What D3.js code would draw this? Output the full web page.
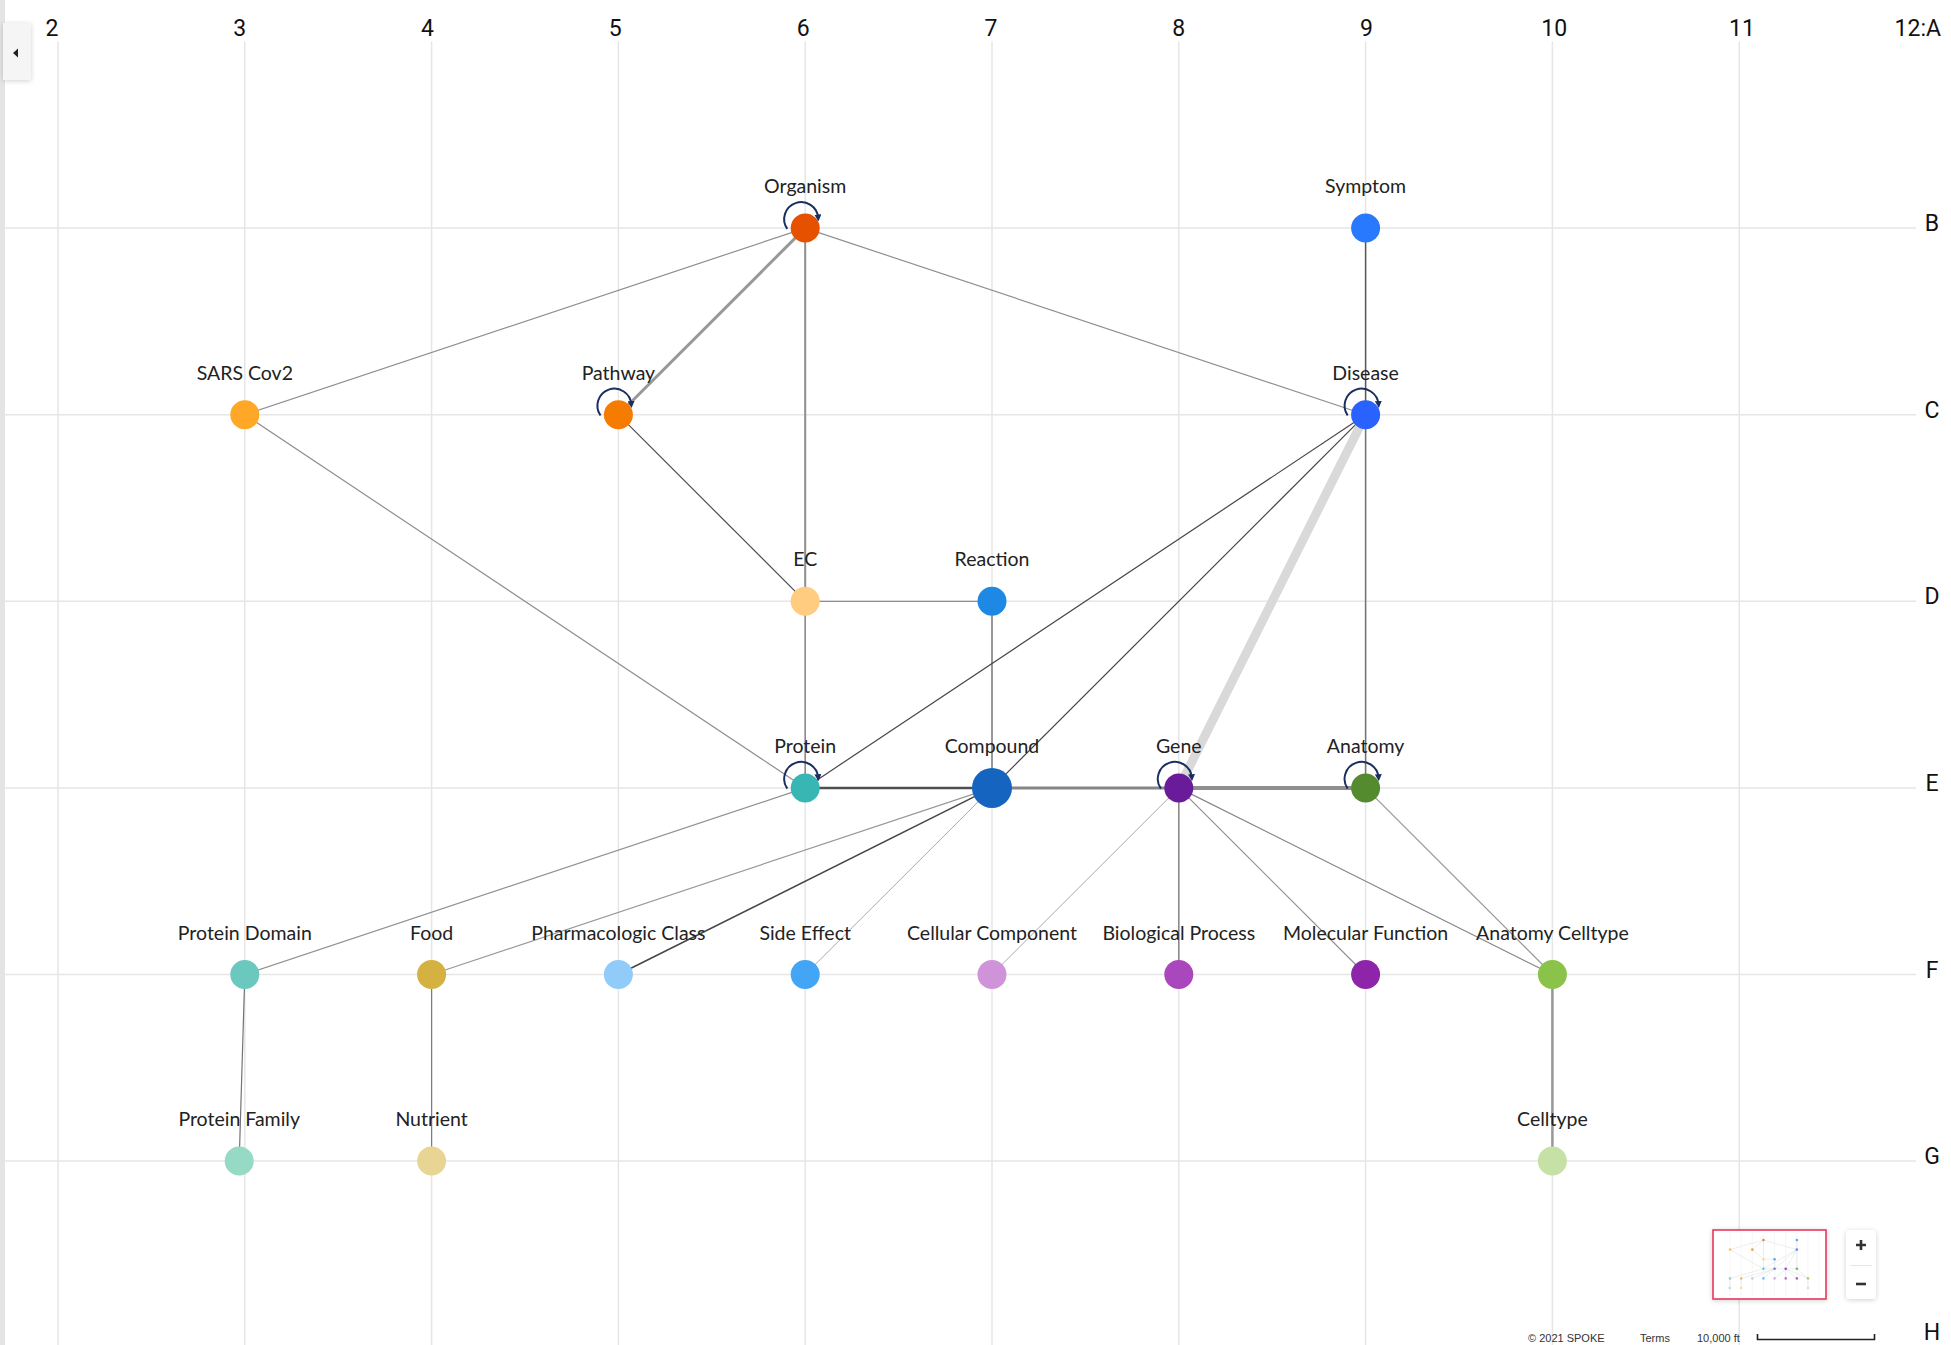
<!DOCTYPE html>
<html>
<head>
<meta charset="utf-8">
<script src="https://cdn.jsdelivr.net/npm/d3@7"></script>
<style>
  html, body { margin: 0; padding: 0; background: #fff; overflow: hidden; }
  svg { display: block; }
</style>
</head>
<body>
<svg id="map" width="1951" height="1345"></svg>
<script>
const WIDTH = 1951;
const HEIGHT = 1345;

// grid labels
const COLUMNS = [2, 3, 4, 5, 6, 7, 8, 9, 10, 11];
const ROWS = ["A", "B", "C", "D", "E", "F", "G", "H"];

// node table: name, grid column, grid row
const nodeNames = [
  "Organism", "Symptom", "SARS Cov2", "Pathway", "Disease", "EC", "Reaction",
  "Protein", "Compound", "Gene", "Anatomy", "Protein Domain", "Food",
  "Pharmacologic Class", "Side Effect", "Cellular Component", "Biological Process",
  "Molecular Function", "Anatomy Celltype", "Protein Family", "Nutrient", "Celltype",
];
const nodeCols = [6, 9, 3, 5, 9, 6, 7, 6, 7, 8, 9, 3, 4, 5, 6, 7, 8, 9, 10, 2.97, 4, 10];
const nodeRows = ["B", "B", "C", "C", "C", "D", "D", "E", "E", "E", "E",
  "F", "F", "F", "F", "F", "F", "F", "F", "G", "G", "G"];
const nodeColors = [
  "#e65100", "#2979ff", "#ffa726", "#f57c00", "#2962ff", "#ffcc80", "#1e88e5",
  "#38b6b4", "#1565c0", "#6a1b9a", "#558b2f", "#6ac8bf", "#d4b140",
  "#90cbf9", "#42a5f5", "#ce93d8", "#ab47bc", "#8e24aa", "#8bc34a",
  "#96d9c5", "#e8d594", "#c5e1a5",
];
const selfLoops = ["Organism", "Pathway", "Disease", "Protein", "Gene", "Anatomy"];

// edges: source, target, weight (thickness), shade (0 light .. 1 dark)
const edgeSources = [
  "Organism", "Organism", "Organism", "Organism", "Symptom", "SARS Cov2", "Pathway",
  "EC", "EC", "Reaction", "Disease", "Disease", "Disease", "Disease", "Protein",
  "Compound", "Gene", "Protein", "Compound", "Compound", "Compound", "Gene", "Gene",
  "Gene", "Gene", "Anatomy", "Protein Domain", "Food", "Anatomy Celltype",
];
const edgeTargets = [
  "SARS Cov2", "Pathway", "EC", "Disease", "Disease", "Protein", "EC",
  "Reaction", "Protein", "Compound", "Protein", "Compound", "Gene", "Anatomy", "Compound",
  "Gene", "Anatomy", "Protein Domain", "Food", "Pharmacologic Class", "Side Effect",
  "Cellular Component", "Biological Process", "Molecular Function", "Anatomy Celltype",
  "Anatomy Celltype", "Protein Family", "Nutrient", "Celltype",
];
const edgeWeights = [1.2, 3, 2, 1.2, 1.5, 1.2, 1.2, 1.2, 1.5, 1.5, 1.2, 1.2, 9, 1.5, 2.5,
  3, 4, 1.2, 1.2, 1.6, 1, 1, 1.5, 1.2, 1.2, 1.2, 1.2, 1.2, 2.5];
const edgeShades = [0.45, 0.4, 0.45, 0.45, 0.75, 0.45, 0.8, 0.45, 0.5, 0.55, 0.85, 0.85, 0.05,
  0.6, 0.8, 0.5, 0.45, 0.45, 0.4, 0.85, 0.3, 0.3, 0.5, 0.45, 0.5, 0.4, 0.6, 0.55, 0.4];

const svg = d3.select("#map");

const x = d3.scaleLinear().domain([2, 12]).range([58, 1926]);
const rowY = d3.scaleLinear().domain([0, 7]).range([41.5, 1347.7]);
const y = (r) => rowY(ROWS.indexOf(r));
const colLabelX = d3.scaleLinear().domain([2, 11]).range([52, 1742]);
const color = d3.scaleOrdinal(nodeNames, nodeColors);
const width = d3.scaleLinear().domain([1, 9]).range([1, 9]);
const shade = d3.scaleLinear().domain([0, 1]).range(["#e2e2e2", "#2a2a2a"]);

const nodes = nodeNames.map((name, i) => ({
  name,
  col: nodeCols[i],
  row: nodeRows[i],
  r: name === "Compound" ? 20 : 14.5,
}));
const byName = new Map(nodes.map((n) => [n.name, n]));
const edges = edgeSources.map((s, i) => ({
  source: byName.get(s),
  target: byName.get(edgeTargets[i]),
  weight: edgeWeights[i],
  shade: edgeShades[i],
}));

const defs = svg.append("defs");
defs.append("marker")
  .attr("id", "loop-arrow")
  .attr("viewBox", "0 0 10 10")
  .attr("refX", 5)
  .attr("refY", 5)
  .attr("markerWidth", 7)
  .attr("markerHeight", 7)
  .attr("markerUnits", "userSpaceOnUse")
  .attr("orient", "auto")
  .append("path")
  .attr("d", "M0,0 L10,5 L0,10 z")
  .attr("fill", "#1b2f5e");

const shadow = defs.append("filter").attr("id", "shadow")
  .attr("x", "-30%").attr("y", "-30%").attr("width", "160%").attr("height", "160%");
shadow.append("feDropShadow").attr("dx", 0).attr("dy", 1).attr("stdDeviation", 2.5)
  .attr("flood-color", "#000").attr("flood-opacity", 0.18);

// grid
const grid = svg.append("g").attr("class", "grid");
grid.selectAll("line.v")
  .data(COLUMNS)
  .join("line")
  .attr("class", "v")
  .attr("x1", (c) => x(c)).attr("x2", (c) => x(c))
  .attr("y1", rowY(0)).attr("y2", HEIGHT)
  .attr("stroke", "#e6e6e6").attr("stroke-width", 1.5);
grid.selectAll("line.h")
  .data(ROWS.slice(1))
  .join("line")
  .attr("class", "h")
  .attr("x1", 0).attr("x2", x(12) - 10)
  .attr("y1", (r) => y(r)).attr("y2", (r) => y(r))
  .attr("stroke", "#e6e6e6").attr("stroke-width", 1.5);

// column and row labels
const labelFont = "Roboto, 'Liberation Sans', sans-serif";
svg.append("g").selectAll("text")
  .data(COLUMNS)
  .join("text")
  .attr("x", (c) => colLabelX(c))
  .attr("y", 36)
  .attr("text-anchor", "middle")
  .attr("font-family", labelFont)
  .attr("font-size", 23)
  .attr("fill", "#111")
  .text((c) => c);
svg.append("text")
  .attr("x", 1941).attr("y", 36)
  .attr("text-anchor", "end")
  .attr("font-family", labelFont).attr("font-size", 23).attr("fill", "#111")
  .text("12:A");
svg.append("g").selectAll("text")
  .data(ROWS.slice(1))
  .join("text")
  .attr("x", 1932)
  .attr("y", (r) => Math.min(y(r) + 3, 1340))
  .attr("text-anchor", "middle")
  .attr("font-family", labelFont)
  .attr("font-size", 23)
  .attr("fill", "#111")
  .text((r) => r);

// edges
svg.append("g").selectAll("line")
  .data(edges)
  .join("line")
  .attr("x1", (e) => x(e.source.col)).attr("y1", (e) => y(e.source.row))
  .attr("x2", (e) => x(e.target.col)).attr("y2", (e) => y(e.target.row))
  .attr("stroke", (e) => shade(e.shade))
  .attr("stroke-width", (e) => width(e.weight));

// nodes
svg.append("g").selectAll("circle")
  .data(nodes)
  .join("circle")
  .attr("cx", (n) => x(n.col))
  .attr("cy", (n) => y(n.row))
  .attr("r", (n) => n.r)
  .attr("fill", (n) => color(n.name));

// self loops
const LOOP_R = 17;
function loopPath(n) {
  const cx = x(n.col) - 4;
  const cy = y(n.row) - 9;
  const a0 = (215 * Math.PI) / 180;
  const a1 = (4 * Math.PI) / 180;
  const sx = cx + LOOP_R * Math.cos(a0), sy = cy - LOOP_R * Math.sin(a0);
  const ex = cx + LOOP_R * Math.cos(a1), ey = cy - LOOP_R * Math.sin(a1);
  return `M${sx},${sy} A${LOOP_R},${LOOP_R} 0 1 1 ${ex},${ey}`;
}
svg.append("g").selectAll("path")
  .data(nodes.filter((n) => selfLoops.includes(n.name)))
  .join("path")
  .attr("d", loopPath)
  .attr("fill", "none")
  .attr("stroke", "#1b2f5e")
  .attr("stroke-width", 2)
  .attr("marker-end", "url(#loop-arrow)");

// node labels
svg.append("g").selectAll("text")
  .data(nodes)
  .join("text")
  .attr("x", (n) => x(n.col))
  .attr("y", (n) => y(n.row) - 35)
  .attr("text-anchor", "middle")
  .attr("font-family", "Lato, sans-serif")
  .attr("font-size", 19.5)
  .attr("fill", "#222")
  .text((n) => n.name);

// left side panel toggle
svg.append("rect")
  .attr("x", 0).attr("y", 0).attr("width", 5).attr("height", HEIGHT)
  .attr("fill", "#e4e4e4");
svg.append("rect")
  .attr("x", 3).attr("y", 23).attr("width", 28).attr("height", 57)
  .attr("fill", "#f5f5f5").attr("filter", "url(#shadow)");
svg.append("path")
  .attr("d", "M13,53 L18,48.5 L18,57.5 z")
  .attr("fill", "#222");

// minimap
const mini = svg.append("g");
mini.append("rect")
  .attr("x", 1713).attr("y", 1230).attr("width", 113).attr("height", 69)
  .attr("fill", "#fff").attr("stroke", "#e8385c").attr("stroke-width", 1.6)
  .attr("filter", "url(#shadow)");
const mx = d3.scaleLinear().domain([x(3), x(10)]).range([1730, 1808]);
const my = d3.scaleLinear().domain([rowY(1), rowY(6)]).range([1240, 1288]);
mini.selectAll("line.mg")
  .data(COLUMNS.filter((c) => c >= 3 && c <= 11))
  .join("line")
  .attr("class", "mg")
  .attr("x1", (c) => mx(x(c))).attr("x2", (c) => mx(x(c)))
  .attr("y1", 1233).attr("y2", 1296)
  .attr("stroke", "#f0f0f0").attr("stroke-width", 0.6);
mini.selectAll("line.me")
  .data(edges)
  .join("line")
  .attr("class", "me")
  .attr("x1", (e) => mx(x(e.source.col))).attr("y1", (e) => my(y(e.source.row)))
  .attr("x2", (e) => mx(x(e.target.col))).attr("y2", (e) => my(y(e.target.row)))
  .attr("stroke", "#e3e3e3").attr("stroke-width", 0.6);
mini.selectAll("circle")
  .data(nodes)
  .join("circle")
  .attr("cx", (n) => mx(x(n.col)))
  .attr("cy", (n) => my(y(n.row)))
  .attr("r", 1.3)
  .attr("fill", (n) => color(n.name))
  .attr("opacity", 0.7);

// zoom control
const zoomCtl = svg.append("g");
zoomCtl.append("rect")
  .attr("x", 1846).attr("y", 1230).attr("width", 30).attr("height", 69).attr("rx", 4)
  .attr("fill", "#fff").attr("filter", "url(#shadow)");
zoomCtl.append("line")
  .attr("x1", 1850).attr("x2", 1872).attr("y1", 1265.5).attr("y2", 1265.5)
  .attr("stroke", "#e6e6e6");
zoomCtl.append("path")
  .attr("d", "M1856,1245 H1866 M1861,1240 V1250")
  .attr("stroke", "#333").attr("stroke-width", 2.6);
zoomCtl.append("path")
  .attr("d", "M1856,1284 H1866")
  .attr("stroke", "#333").attr("stroke-width", 2.6);

// attribution and scale bar
const attrib = svg.append("g")
  .attr("font-family", "'Liberation Sans', Arial, sans-serif")
  .attr("font-size", 11)
  .attr("fill", "#333");
attrib.append("text").attr("x", 1528).attr("y", 1342).text("\u00a9 2021  SPOKE");
attrib.append("text").attr("x", 1640).attr("y", 1342).text("Terms");
attrib.append("text").attr("x", 1697).attr("y", 1342).text("10,000 ft");
svg.append("path")
  .attr("d", "M1757.5,1334 V1339.5 H1874.5 V1334")
  .attr("fill", "none").attr("stroke", "#222").attr("stroke-width", 1.6);
</script>
</body>
</html>
